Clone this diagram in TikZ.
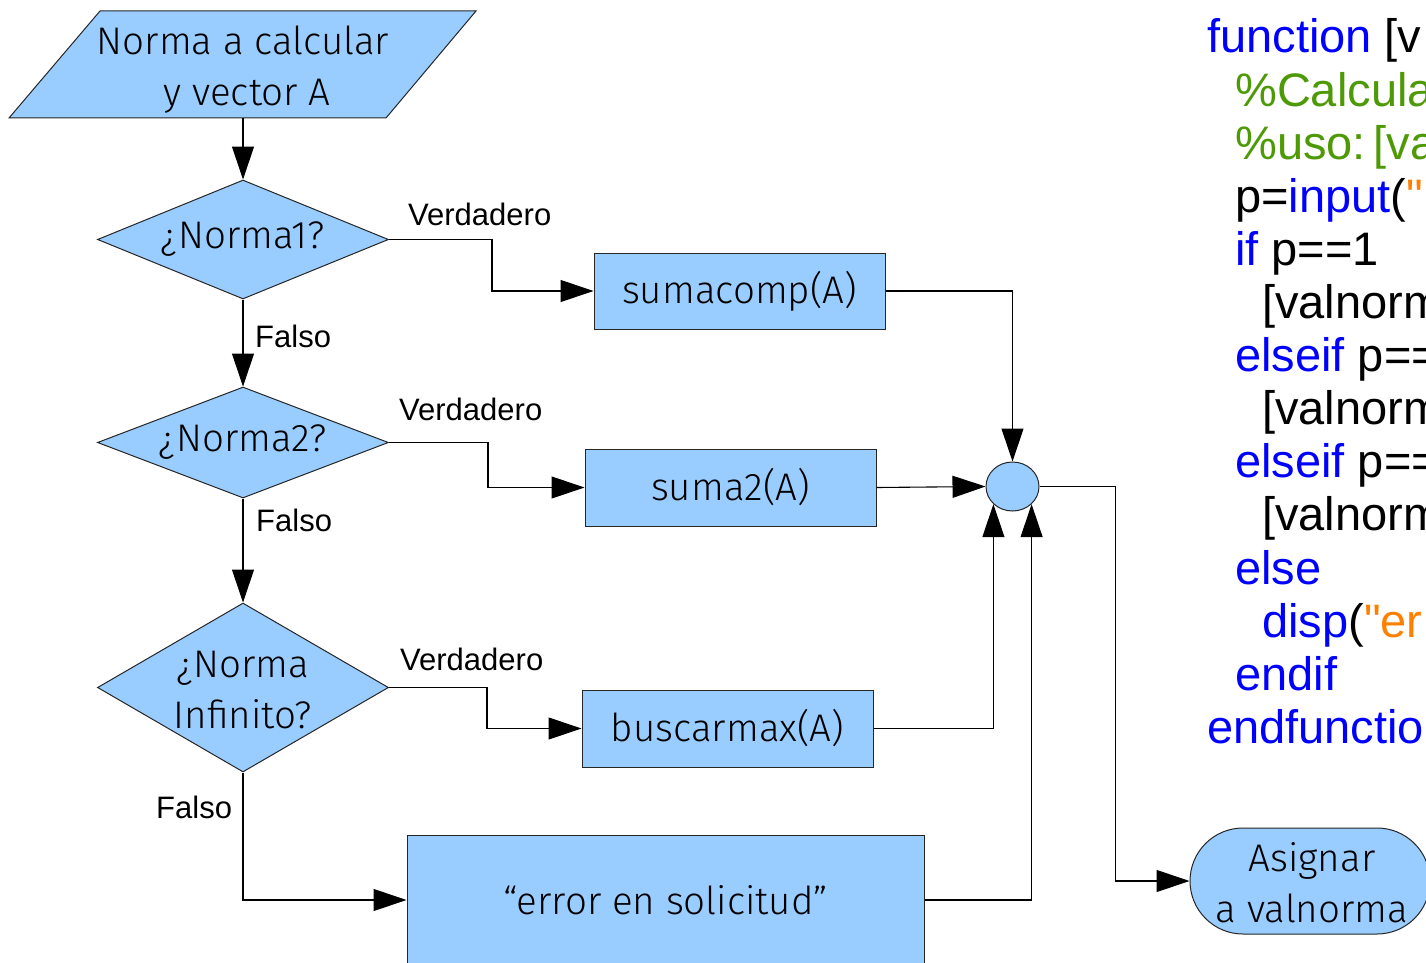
\documentclass[tikz,border=0pt]{standalone}
\usepackage{fontspec}
\setmainfont{Fira Sans Light}
\newfontfamily\arial{Liberation Sans}
\usetikzlibrary{arrows.meta,shapes.geometric}
\definecolor{boxfill}{HTML}{99CCFF}
\definecolor{kw}{RGB}{0,0,255}
\definecolor{cm}{HTML}{4E9A06}
\definecolor{st}{HTML}{FF7F00}
\begin{document}
\begin{tikzpicture}[x=1pt,y=-1pt,
  shapebox/.style={draw=black!85, fill=boxfill, line width=1pt},
  dia/.style={shape=diamond, shapebox, inner sep=0pt, minimum width=291pt},
  box/.style={shape=rectangle, shapebox, inner sep=0pt, minimum width=291pt, minimum height=77pt, font=\fontsize{38.5}{51}\selectfont},
  txt/.style={font=\fontsize{38.5}{51}\selectfont, align=center, inner sep=0pt},
  conn/.style={line width=1.1pt, -{Triangle[length=33pt,width=22pt]}},
  lbl/.style={font=\arial\fontsize{31}{36}\selectfont, anchor=base west, inner sep=0pt},
  code/.style={font=\arial\fontsize{47}{53}\selectfont, anchor=base west, inner sep=0pt}
]
\useasboundingbox (0,0) rectangle (1426,963);
\clip (0,0) rectangle (1426,963);

% input parallelogram
\draw[shapebox] (100,11) -- (476,11) -- (386,118) -- (9,118) -- cycle;
\node[inner sep=0pt, minimum width=200pt, minimum height=107pt] (in) at (243,64.5) {};
\node[txt, anchor=base] (in1) at (243,55) {Norma a calcular};
\node[txt, anchor=base] (in2) at (247,106) {y vector A};

% decisions
\node[dia, minimum height=119pt] (d1) at (243,239.5) {};
\node[txt] (d1t) at (d1) {¿Norma1?};
\node[dia, minimum height=111pt] (d2) at (243,442.5) {};
\node[txt] (d2t) at (d2) {¿Norma2?};
\node[dia, minimum height=169pt] (d3) at (243,687.5) {};
\node[txt] (d3t) at (243,690) {¿Norma\\Infinito?};

% processes
\node[box, minimum height=76pt] (b1) at (739.5,291) {sumacomp(A)};
\node[box] (b2) at (730.5,487.5) {suma2(A)};
\node[box] (b3) at (727.5,728.5) {buscarmax(A)};
\node[box, minimum width=517pt, minimum height=130pt] (be) at (665.5,900) {“error en solicitud”};

% junction
\node[shape=ellipse, shapebox, inner sep=0pt, minimum width=53pt, minimum height=49pt] (j) at (1012.5,486.5) {};

% output
\node[shape=rectangle, shapebox, rounded corners=53pt, minimum width=240pt, minimum height=106pt, inner sep=0pt] (as) at (1310,881) {};
\node[txt] (ast) at (1312,883) {Asignar\\a valnorma};

% connectors
\draw[conn] (in.south) -- (d1.north);
\draw[conn] (d1.south) -- (d2.north);
\draw[conn] (d2.south) -- (d3.north);
\draw[conn] (d3.south) |- (be.west);
\draw[conn] (d1.east) -- ++(103,0) |- (b1.west);
\draw[conn] (d2.east) -- ++(99,0) |- (b2.west);
\draw[conn] (d3.east) -- ++(98,0) |- (b3.west);
\draw[conn] (b1.east) -| (j.north);
\draw[conn] (b2.east) -- (j.west);
\draw[conn] (b3.east) -| (j.south west);
\draw[conn] (be.east) -| (j.south east);
\draw[conn] (j.east) -- ++(76,0) |- (as.west);

% labels
\node[lbl] (v1) at (408,225) {Verdadero};
\node[lbl] (v2) at (399,420) {Verdadero};
\node[lbl] (v3) at (400,670) {Verdadero};
\node[lbl] (f1) at (255,347) {Falso};
\node[lbl] (f2) at (256,531) {Falso};
\node[lbl] (f3) at (156,818) {Falso};

% code
\node[code] (c0) at (1207,53) {\textcolor{kw}{function} [v};
\node[code] (c1) at (1235,106.1) {\textcolor{cm}{\%Calcula}};
\node[code] (c2) at (1235,159.2) {\textcolor{cm}{\%uso:\,[va}};
\node[code] (c3) at (1235,212.3) {p=\textcolor{kw}{input}(\textcolor{st}{"}};
\node[code] (c4) at (1235,265.4) {\textcolor{kw}{if} p==1};
\node[code] (c5) at (1262,318.5) {[valnorm};
\node[code] (c6) at (1235,371.6) {\textcolor{kw}{elseif} p==};
\node[code] (c7) at (1262,424.7) {[valnorm};
\node[code] (c8) at (1235,477.8) {\textcolor{kw}{elseif} p==};
\node[code] (c9) at (1262,530.9) {[valnorm};
\node[code] (c10) at (1235,584) {\textcolor{kw}{else}};
\node[code] (c11) at (1262,637.1) {\textcolor{kw}{disp}(\textcolor{st}{"er}};
\node[code] (c12) at (1235,690.2) {\textcolor{kw}{endif}};
\node[code] (c13) at (1207,743.3) {\textcolor{kw}{endfunctio}};
\end{tikzpicture}
\end{document}
